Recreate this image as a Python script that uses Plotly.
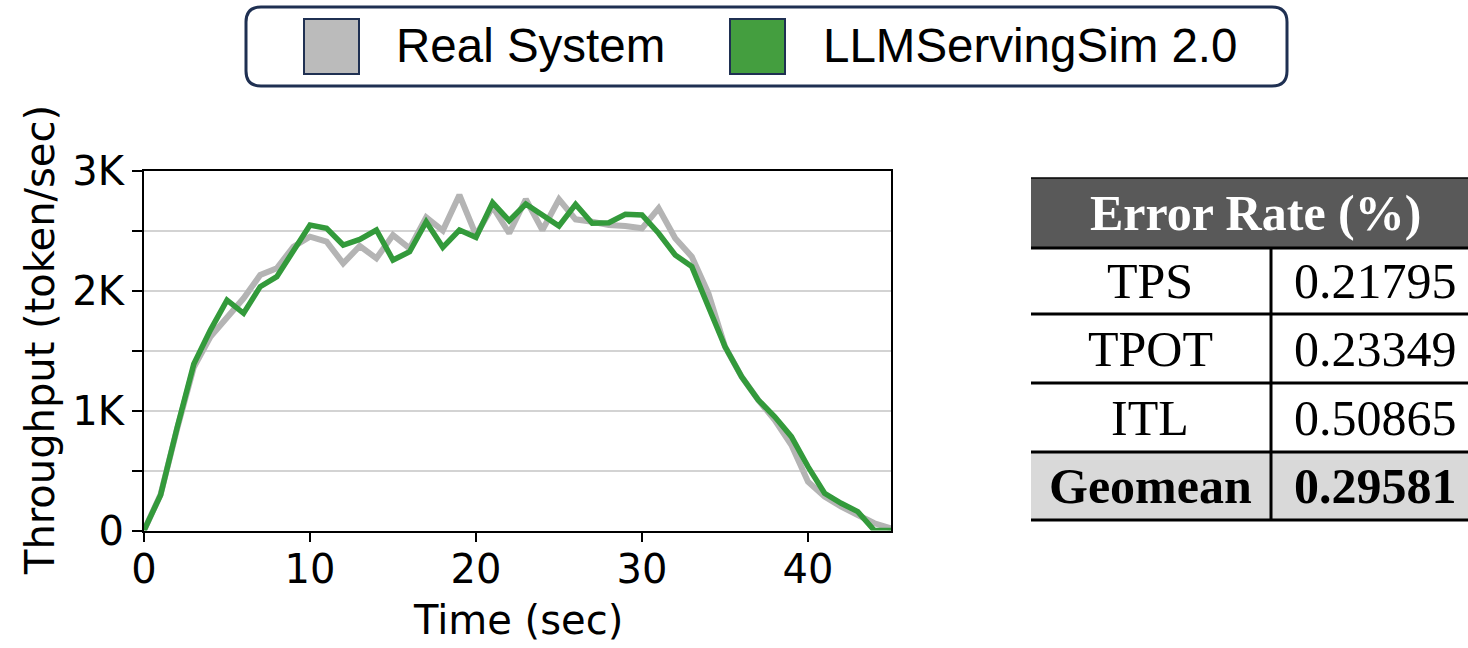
import plotly.graph_objects as go

# ---- data -------------------------------------------------------------
time_sec = list(range(46))

real_system = [0, 300, 850, 1360, 1615, 1770, 1935, 2129, 2185, 2365,
               2448, 2407, 2226, 2371, 2268, 2462, 2351, 2610, 2499, 2796,
               2462, 2698, 2477, 2760, 2504, 2760, 2593, 2573, 2546, 2538,
               2518, 2685, 2435, 2282, 1976, 1532, 1282, 1088, 921, 712,
               407, 282, 198, 129, 60, 18]

llmservingsim = [0, 296, 860, 1387, 1670, 1920, 1810, 2032, 2115, 2338,
                 2546, 2518, 2379, 2426, 2504, 2254, 2323, 2573, 2360, 2504,
                 2443, 2732, 2582, 2721, 2629, 2538, 2718, 2560, 2565, 2635,
                 2629, 2477, 2296, 2199, 1865, 1532, 1282, 1088, 948, 782,
                 532, 310, 227, 157, 0, 0]

series_names = ["Real System", "LLMServingSim 2.0"]

x_tickvals = [0, 10, 20, 30, 40]
y_tickvals = [0, 1000, 2000, 3000]
y_ticktext = ["0", "1K", "2K", "3K"]
y_minor_tickvals = [500, 1500, 2500]

table_title = "Error Rate (%)"
metric_names = ["TPS", "TPOT", "ITL", "Geomean"]
error_rates = [0.21795, 0.23349, 0.50865, 0.29581]

# ---- styling ----------------------------------------------------------
W, H = 1468, 648
GRAY = "#b4b4b4"
GREEN = "#339a3b"
SWATCH_GRAY = "#bbbbbb"
SWATCH_GREEN = "#449e3f"
NAVY = "#1f3052"
SANS = "DejaVu Sans, Verdana, sans-serif"
ARIAL = "Liberation Sans, Arial, sans-serif"
SERIF = "Liberation Serif, Times New Roman, serif"


def px(x):
    return x / W


def py(y):
    return 1 - y / H


fig = go.Figure()
fig.add_trace(go.Scatter(x=time_sec, y=real_system, mode="lines",
                         name=series_names[0],
                         line=dict(color=GRAY, width=6)))
fig.add_trace(go.Scatter(x=time_sec, y=llmservingsim, mode="lines",
                         name=series_names[1],
                         line=dict(color=GREEN, width=5.5)))

shapes = []
annotations = []

# ---- legend box with rounded corners -----------------------------------
lx0, lx1, ly0, ly1, r = 246, 1287, 7, 86, 15
path = (f"M {px(lx0 + r)} {py(ly0)} L {px(lx1 - r)} {py(ly0)} "
        f"Q {px(lx1)} {py(ly0)} {px(lx1)} {py(ly0 + r)} "
        f"L {px(lx1)} {py(ly1 - r)} "
        f"Q {px(lx1)} {py(ly1)} {px(lx1 - r)} {py(ly1)} "
        f"L {px(lx0 + r)} {py(ly1)} "
        f"Q {px(lx0)} {py(ly1)} {px(lx0)} {py(ly1 - r)} "
        f"L {px(lx0)} {py(ly0 + r)} "
        f"Q {px(lx0)} {py(ly0)} {px(lx0 + r)} {py(ly0)} Z")
shapes.append(dict(type="path", xref="paper", yref="paper", path=path,
                   line=dict(color=NAVY, width=3), fillcolor="white"))

legend_items = [(304, SWATCH_GRAY, 394), (730, SWATCH_GREEN, 821)]
for (sx, color, tx), name in zip(legend_items, series_names):
    shapes.append(dict(type="rect", xref="paper", yref="paper",
                       x0=px(sx), x1=px(sx + 55), y0=py(74), y1=py(19),
                       fillcolor=color, line=dict(color=NAVY, width=2)))
    annotations.append(dict(xref="paper", yref="paper", x=px(tx), y=py(46),
                            xanchor="left", yanchor="middle", showarrow=False,
                            text=name,
                            font=dict(family=ARIAL, size=47.5, color="black")))

# ---- error-rate table --------------------------------------------------
tx0, tx1 = 1031, 1480
col_div = 1271
col_centers = [1150, 1375]
header_top, header_bot = 178, 248
row_edges = [248, 314, 383, 452, 520]

shapes.append(dict(type="rect", xref="paper", yref="paper",
                   x0=px(tx0), x1=px(tx1), y0=py(header_bot), y1=py(header_top),
                   fillcolor="#595959", line=dict(width=0)))
shapes.append(dict(type="line", xref="paper", yref="paper",
                   x0=px(tx0), x1=px(tx1), y0=py(header_top), y1=py(header_top),
                   line=dict(color="black", width=1.5)))
# shaded summary row
shapes.append(dict(type="rect", xref="paper", yref="paper",
                   x0=px(tx0), x1=px(tx1), y0=py(row_edges[-1]),
                   y1=py(row_edges[-2]),
                   fillcolor="#d9d9d9", line=dict(width=0)))
for ye in row_edges:
    shapes.append(dict(type="line", xref="paper", yref="paper",
                       x0=px(tx0), x1=px(tx1), y0=py(ye), y1=py(ye),
                       line=dict(color="black", width=3)))
shapes.append(dict(type="line", xref="paper", yref="paper",
                   x0=px(col_div), x1=px(col_div),
                   y0=py(row_edges[0]), y1=py(row_edges[-1]),
                   line=dict(color="black", width=3)))

annotations.append(dict(xref="paper", yref="paper",
                        x=px((tx0 + tx1) / 2), y=py((header_top + header_bot) / 2),
                        xanchor="center", yanchor="middle", showarrow=False,
                        text=f"<b>{table_title}</b>",
                        font=dict(family=SERIF, size=50, color="white")))
for i, (name, val) in enumerate(zip(metric_names, error_rates)):
    yc = (row_edges[i] + row_edges[i + 1]) / 2
    bold = name == "Geomean"
    for xc, txt in zip(col_centers, [name, f"{val:.5f}"]):
        annotations.append(dict(xref="paper", yref="paper", x=px(xc), y=py(yc),
                                xanchor="center", yanchor="middle",
                                showarrow=False,
                                text=f"<b>{txt}</b>" if bold else txt,
                                font=dict(family=SERIF, size=50, color="black")))

# ---- axis titles -------------------------------------------------------
annotations.append(dict(xref="paper", yref="paper", x=px(40), y=py(340),
                        xanchor="center", yanchor="middle", showarrow=False,
                        textangle=-90, text="Throughput (token/sec)",
                        font=dict(family=SANS, size=40, color="black")))
annotations.append(dict(xref="paper", yref="paper", x=px(517.5), y=py(620),
                        xanchor="center", yanchor="middle", showarrow=False,
                        text="Time (sec)",
                        font=dict(family=SANS, size=40, color="black")))

fig.update_layout(
    width=W, height=H,
    margin=dict(l=0, r=0, t=0, b=0, pad=0, autoexpand=False),
    paper_bgcolor="white", plot_bgcolor="white",
    showlegend=False,
    shapes=shapes, annotations=annotations,
    xaxis=dict(domain=[px(144), px(891)], range=[0, 45], automargin=False,
               tickmode="array", tickvals=x_tickvals,
               ticks="outside", ticklen=9, tickwidth=2, tickcolor="black",
               ticklabelstandoff=-7,
               showline=True, linecolor="black", linewidth=2, mirror=True,
               showgrid=False, zeroline=False,
               tickfont=dict(family=SANS, size=40, color="black")),
    yaxis=dict(domain=[py(530.5), py(170.5)], range=[0, 3000], automargin=False,
               tickmode="array", tickvals=y_tickvals, ticktext=y_ticktext,
               ticks="outside", ticklen=10, tickwidth=2, tickcolor="black",
               showline=True, linecolor="black", linewidth=2, mirror=True,
               showgrid=True, gridcolor="#d3d3d3", gridwidth=2,
               zeroline=False,
               minor=dict(tickmode="array", tickvals=y_minor_tickvals,
                          ticks="outside", ticklen=10, tickwidth=2,
                          tickcolor="black", showgrid=True,
                          gridcolor="#d3d3d3", gridwidth=2),
               tickfont=dict(family=SANS, size=40, color="black")),
)

fig.write_html("out.html")
